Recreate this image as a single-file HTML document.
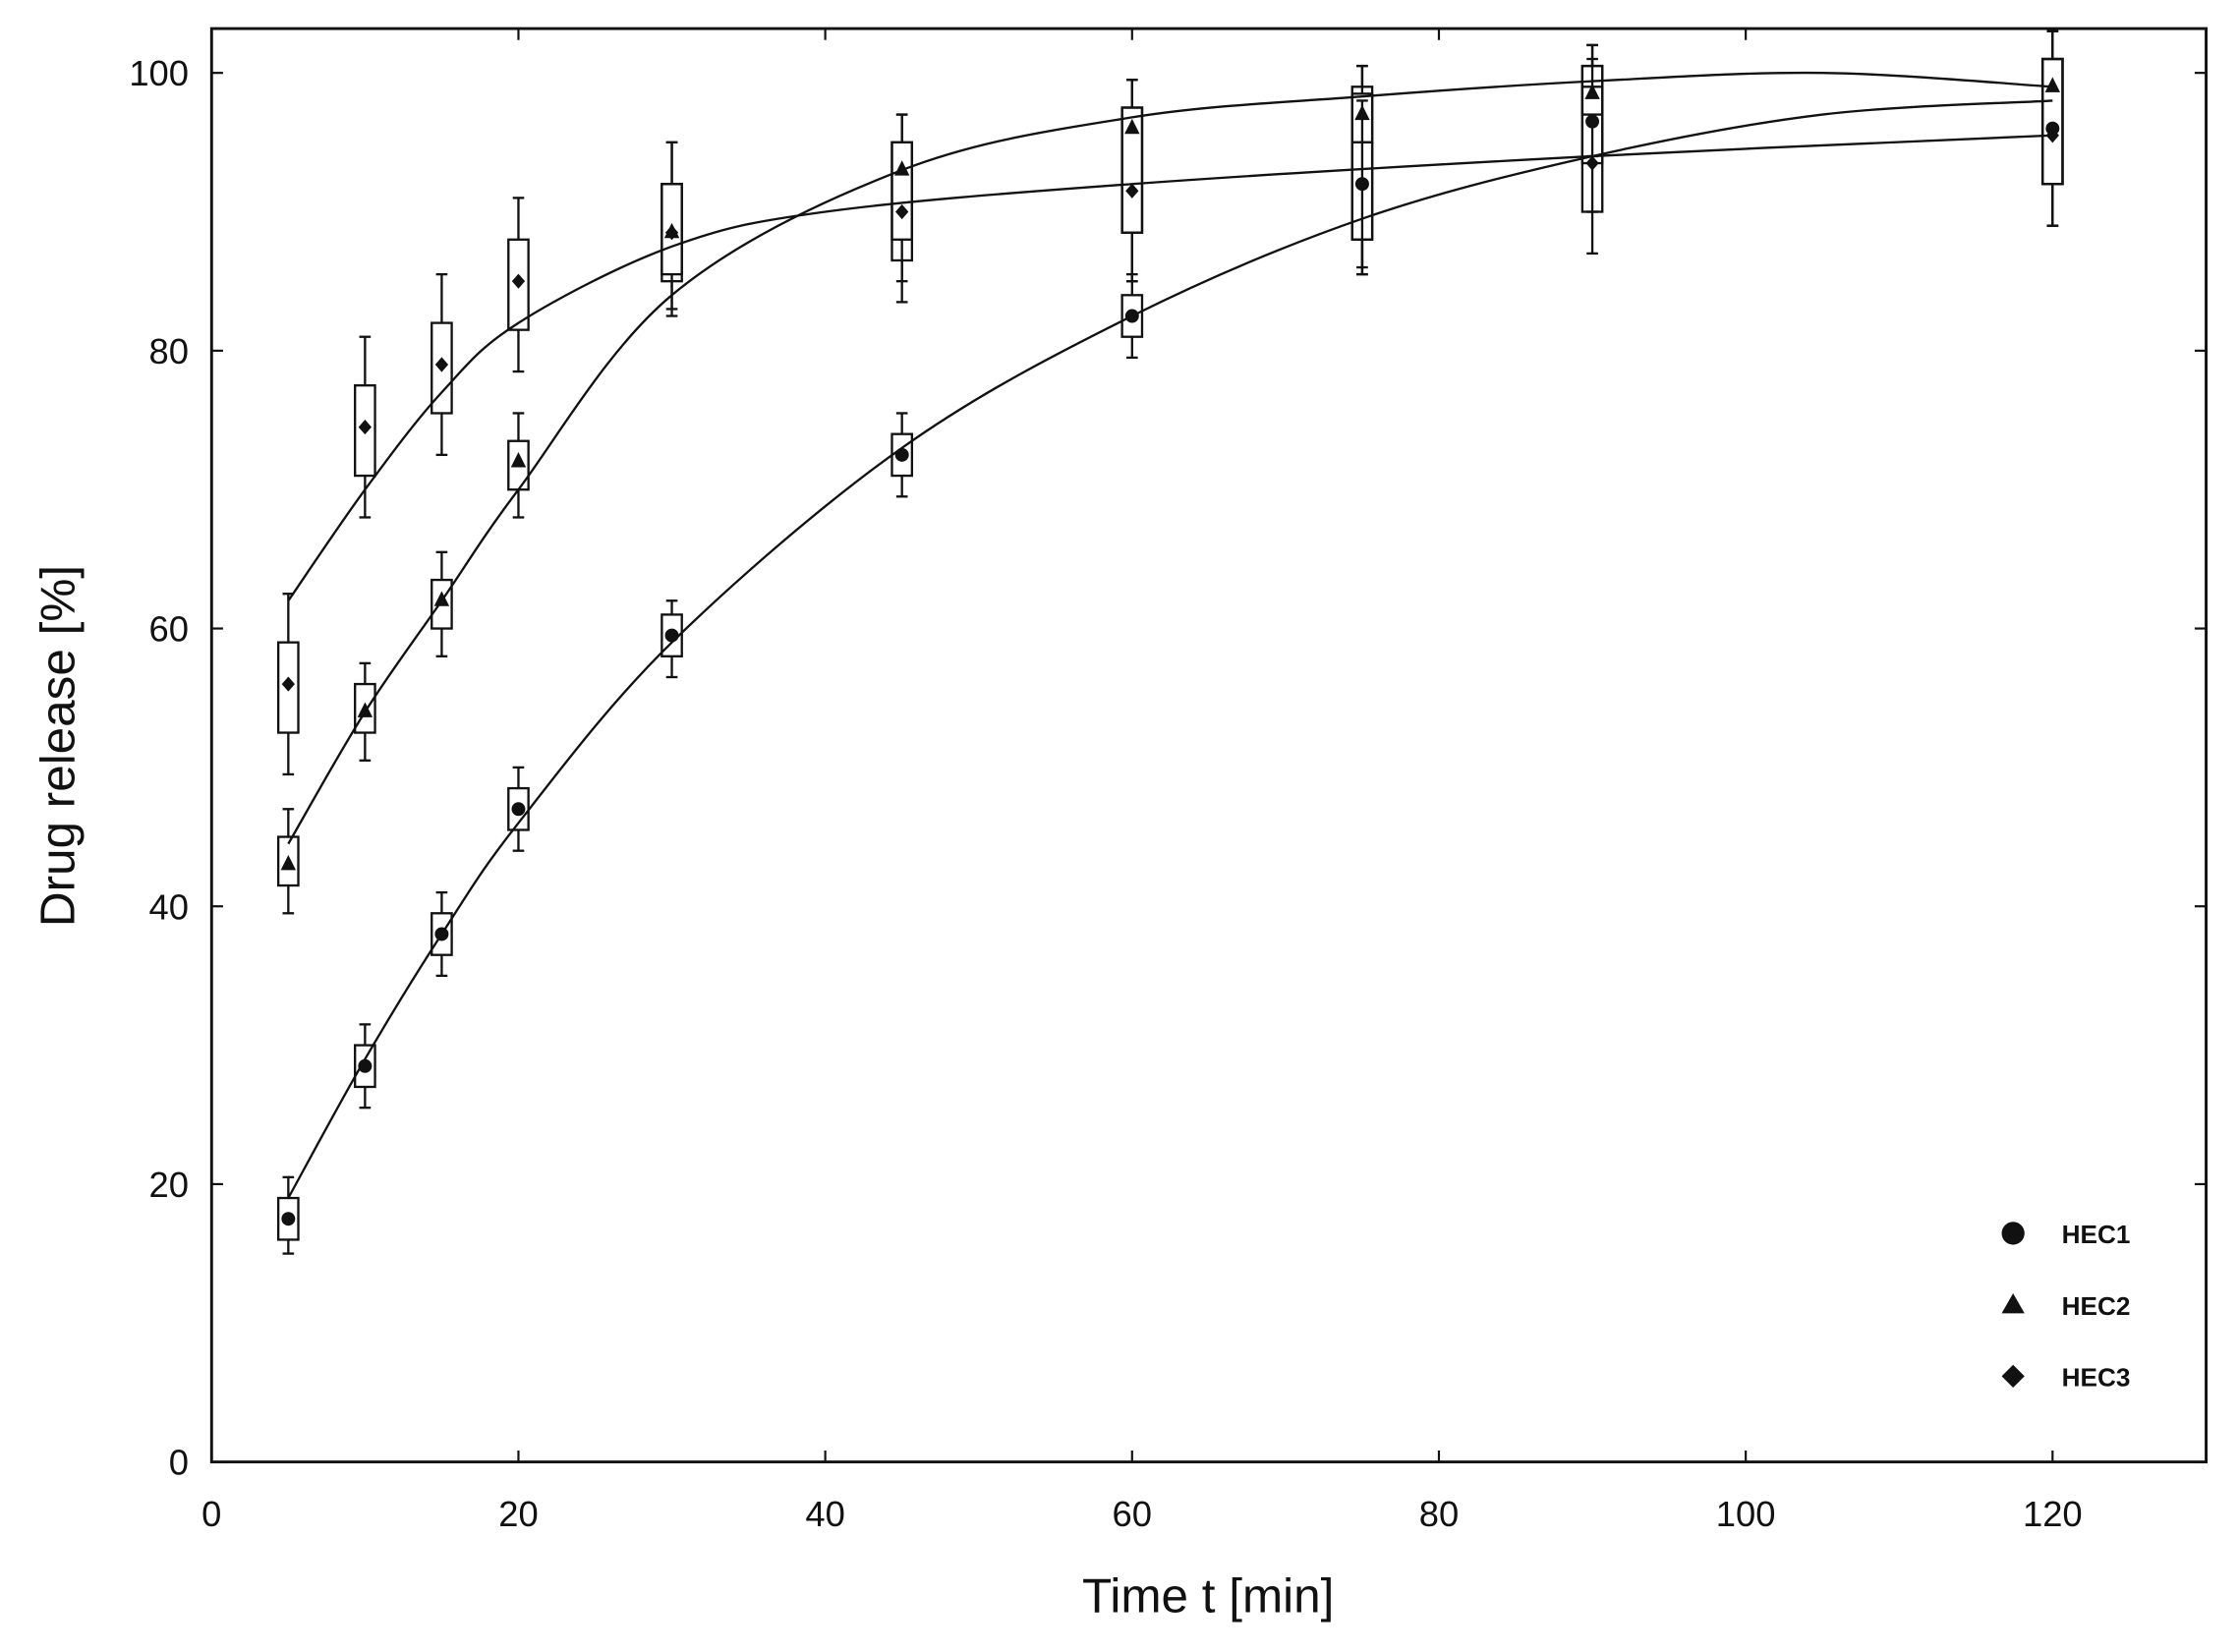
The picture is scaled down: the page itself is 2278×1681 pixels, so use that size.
<!DOCTYPE html>
<html><head><meta charset="utf-8"><style>html,body{margin:0;padding:0;background:#fff}svg{display:block}</style></head>
<body>
<svg id="s" width="2278" height="1681" viewBox="0 0 1566 1156" preserveAspectRatio="none" xmlns="http://www.w3.org/2000/svg" font-family="Liberation Sans, sans-serif">
<rect x="148" y="20" width="1395" height="1003" fill="none" stroke="#111" stroke-width="2"/>
<g id="ticks" stroke="#111" stroke-width="1.5"></g>
<g font-size="25" fill="#111" text-anchor="end" id="yl"></g>
<g font-size="25" fill="#111" text-anchor="middle" id="xl"></g>
<text x="845" y="1128" font-size="34" text-anchor="middle" fill="#111">Time t [min]</text>
<text transform="translate(52,522) rotate(-90)" font-size="34" text-anchor="middle" fill="#111">Drug release [%]</text>
<g id="data" stroke="#111" stroke-width="1.6" fill="none"></g>
<g font-size="18" font-weight="bold" fill="#111">
<circle cx="1408" cy="863" r="8" fill="#111"/><text x="1442" y="870">HEC1</text>
<polygon points="1408,905 1416,919 1400,919" fill="#111"/><text x="1442" y="920">HEC2</text>
<polygon points="1408,955 1416,963 1408,971 1400,963" fill="#111"/><text x="1442" y="970">HEC3</text>
</g>
</svg>
<script>
var X=t=>148+10.73*t, Y=v=>1023-9.72*v, NS="http://www.w3.org/2000/svg";
function el(p,n,a){var e=document.createElementNS(NS,n);for(var k in a)e.setAttribute(k,a[k]);document.getElementById(p).appendChild(e);return e;}
for(var v=0;v<=100;v+=20){el("ticks","line",{x1:148,x2:156,y1:Y(v),y2:Y(v)});el("ticks","line",{x1:1535,x2:1543,y1:Y(v),y2:Y(v)});var t=el("yl","text",{x:132,y:Y(v)+9});t.textContent=v;}
for(var v=0;v<=120;v+=20){el("ticks","line",{x1:X(v),x2:X(v),y1:1023,y2:1015});el("ticks","line",{x1:X(v),x2:X(v),y1:20,y2:28});var t=el("xl","text",{x:X(v),y:1068});t.textContent=v;}
function curve(pts){var p=pts.map(a=>[X(a[0]),Y(a[1])]);var d="M"+p[0];for(var i=0;i<p.length-1;i++){var p0=p[i-1]||p[i],p1=p[i],p2=p[i+1],p3=p[i+2]||p2;d+=" C"+(p1[0]+(p2[0]-p0[0])/6)+","+(p1[1]+(p2[1]-p0[1])/6)+" "+(p2[0]-(p3[0]-p1[0])/6)+","+(p2[1]-(p3[1]-p1[1])/6)+" "+p2;}el("data","path",{d:d});}
curve([[5,19],[10,29],[15,38],[20,46],[30,59],[45,73],[60,82.5],[75,89.5],[90,94],[105,97],[120,98]]);
curve([[5,44.5],[10,54],[15,62],[20,70],[30,84],[45,93],[60,96.8],[75,98.3],[90,99.4],[105,100],[120,99]]);
curve([[5,62],[10,70],[15,77],[20,82],[30,87.5],[40,90],[60,92],[90,94],[120,95.5]]);
function box(t,m,b1,b2,w1,w2,type){var x=X(t);el("data","line",{x1:x,x2:x,y1:Y(w1),y2:Y(b1)});el("data","line",{x1:x,x2:x,y1:Y(b2),y2:Y(w2)});el("data","line",{x1:x-4,x2:x+4,y1:Y(w1),y2:Y(w1)});el("data","line",{x1:x-4,x2:x+4,y1:Y(w2),y2:Y(w2)});el("data","rect",{x:x-7,y:Y(b2),width:14,height:Y(b1)-Y(b2)});var y=Y(m);
if(type==0)el("data","circle",{cx:x,cy:y,r:4,fill:"#111"});else if(type==1)el("data","polygon",{points:[x,y-5,x+4,y+3,x-4,y+3].join(),fill:"#111"});else el("data","polygon",{points:[x,y-4,x+3.5,y,x,y+4,x-3.5,y].join(),fill:"#111"});}
[[5,17.5,16,19,15,20.5],[10,28.5,27,30,25.5,31.5],[15,38,36.5,39.5,35,41],[20,47,45.5,48.5,44,50],[30,59.5,58,61,56.5,62],[45,72.5,71,74,69.5,75.5],[60,82.5,81,84,79.5,85.5],[75,92,88,95,85.5,98],[90,96.5,93.5,99,90,101],[120,96,92,101,89,103]].forEach(a=>box(...a,0));
[[5,43,41.5,45,39.5,47],[10,54,52.5,56,50.5,57.5],[15,62,60,63.5,58,65.5],[20,72,70,73.5,68,75.5],[30,88.5,85.5,92,83,95],[45,93,88,95,85,97],[60,96,88.5,97.5,85,99.5],[75,97,95,99,86,100.5],[90,98.5,97,100.5,94,102],[120,99,92,101,89,103]].forEach(a=>box(...a,1));
[[5,56,52.5,59,49.5,62.5],[10,74.5,71,77.5,68,81],[15,79,75.5,82,72.5,85.5],[20,85,81.5,88,78.5,91],[30,88.5,85,92,82.5,95],[45,90,86.5,95,83.5,97],[60,91.5,88.5,97.5,85,99.5],[75,92,88,98.5,85.5,100.5],[90,93.5,90,100.5,87,102],[120,95.5,92,101,89,103]].forEach(a=>box(...a,2));
</script>
</body></html>
